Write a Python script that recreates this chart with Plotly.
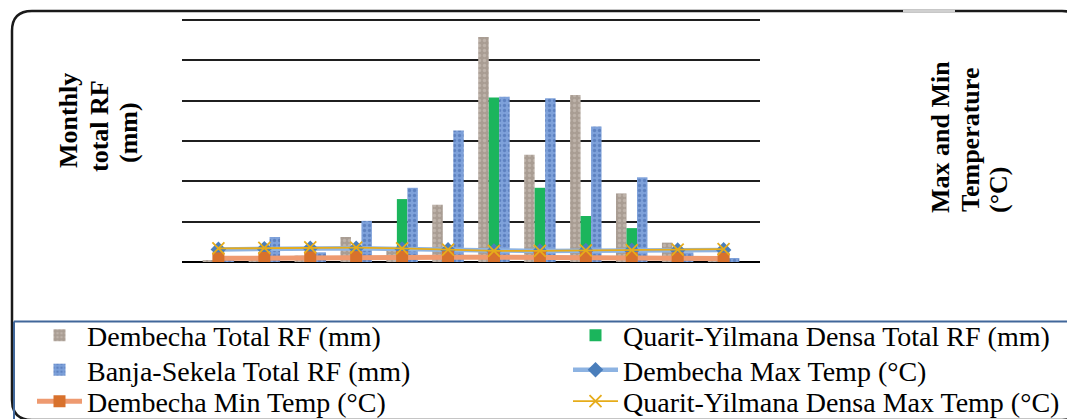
import plotly.graph_objects as go

# ---------------- data ----------------
months = ["Jan", "Feb", "Mar", "Apr", "May", "Jun", "Jul", "Aug", "Sep", "Oct", "Nov", "Dec"]
dembecha_rf = [2, 5, 8, 31, 15, 71, 279, 133, 207, 85, 24, 3]
quarit_rf = [1, 2, 4, 10, 78, 8, 204, 92, 57, 42, 6, 2]
banja_rf = [3, 31, 12, 51, 92, 163, 205, 203, 168, 105, 12, 5]
dembecha_max = [26, 27.5, 28.5, 28.5, 27, 25, 22.5, 22.5, 23.5, 24, 24.5, 25]
dembecha_min = [7.5, 8.5, 9.5, 10, 10.5, 10, 10, 10, 9.5, 8.5, 7.5, 7]
quarit_max = [28, 29, 30, 29.5, 28, 25.5, 23, 23, 24, 24.5, 25.5, 26.5]

# ---------------- geometry ----------------
W, H = 1067, 419
L, R, T, B = 182, 307, 18, 157
PW, PH = W - L - R, H - T - B
RF_TOP = 300 * PH / 242.0      # 300 mm sits at the top gridline
TEMP_TOP = 500 * PH / 242.0


def px(x):
    return (x - L) / PW


def py(y):
    return (H - B - y) / PH


SERIF = "Times New Roman, Liberation Serif, serif"

fig = go.Figure()

fig.add_trace(go.Bar(
    x=months, y=dembecha_rf, name="Dembecha Total RF (mm)", legend="legend",
    marker=dict(color="#A99D93", line=dict(width=0),
                pattern=dict(shape=".", fgcolor="#D3CAC2", size=5, solidity=0.35)),
))
fig.add_trace(go.Bar(
    x=months, y=quarit_rf, name="Quarit-Yilmana Densa Total RF (mm)", legend="legend2",
    marker=dict(color="#1BB55C", line=dict(width=0)),
))
fig.add_trace(go.Bar(
    x=months, y=banja_rf, name="Banja-Sekela Total RF (mm)", legend="legend3",
    marker=dict(color="#7EA1DA", line=dict(width=0),
                pattern=dict(shape=".", fgcolor="#3E63A8", size=5, solidity=0.35)),
))
fig.add_trace(go.Scatter(
    x=months, y=dembecha_max, name="Dembecha Max Temp (°C)", yaxis="y2", legend="legend4",
    mode="lines+markers",
    line=dict(color="#8DB3E2", width=4.5),
    marker=dict(symbol="diamond", size=12, color="#4A7EBB"),
))
fig.add_trace(go.Scatter(
    x=months, y=dembecha_min, name="Dembecha Min Temp (°C)", yaxis="y2", legend="legend5",
    mode="lines+markers",
    line=dict(color="#EE9A70", width=5),
    marker=dict(symbol="square", size=12, color="#D8712C"),
))
fig.add_trace(go.Scatter(
    x=months, y=quarit_max, name="Quarit-Yilmana Densa Max Temp (°C)", yaxis="y2", legend="legend6",
    mode="lines+markers",
    line=dict(color="#E6AC1A", width=1.8),
    marker=dict(symbol="x-thin", size=12, color="#E6AC1A",
                line=dict(width=1.8, color="#E6AC1A")),
))

# ---------------- titles ----------------
annotations = []
for text, x, y in [("Monthly", 69, 121), ("total RF", 99, 126), ("(mm)", 128, 133),
                   ("Max and Min", 940, 137), ("Temperature", 970, 140), ("(°C)", 998, 190)]:
    annotations.append(dict(
        text="<b>" + text + "</b>", x=px(x), y=py(y), xref="paper", yref="paper",
        textangle=-90, showarrow=False, xanchor="center", yanchor="middle",
        font=dict(family=SERIF, size=26, color="#000000"),
    ))

# ---------------- frame shapes ----------------
x0, y0, x1, y1, rr = 12, 11, 1082, 420, 20
frame = (f"M {px(x0 + rr)},{py(y0)} L {px(x1 - rr)},{py(y0)} "
         f"Q {px(x1)},{py(y0)} {px(x1)},{py(y0 + rr)} "
         f"L {px(x1)},{py(y1 - rr)} Q {px(x1)},{py(y1)} {px(x1 - rr)},{py(y1)} "
         f"L {px(x0 + rr)},{py(y1)} Q {px(x0)},{py(y1)} {px(x0)},{py(y1 - rr)} "
         f"L {px(x0)},{py(y0 + rr)} Q {px(x0)},{py(y0)} {px(x0 + rr)},{py(y0)} Z")

shapes = [
    dict(type="path", path=frame, xref="paper", yref="paper",
         line=dict(color="#1a1a1a", width=2.5), fillcolor="rgba(0,0,0,0)", layer="above"),
    dict(type="line", x0=px(903), x1=px(955), y0=py(11), y1=py(11), xref="paper", yref="paper",
         line=dict(color="#D0D0D0", width=2.5), layer="above"),
    dict(type="line", x0=px(14), x1=px(1067), y0=py(321.5), y1=py(321.5), xref="paper", yref="paper",
         line=dict(color="#41679A", width=2), layer="above"),
    dict(type="line", x0=px(14), x1=px(14), y0=py(321.5), y1=py(419), xref="paper", yref="paper",
         line=dict(color="#41679A", width=2), layer="above"),
]

LEG_FONT = 28
leg_common = dict(orientation="v", xref="container", yref="container",
                  xanchor="left", yanchor="top", itemwidth=45, maxheight=400,
                  font=dict(family=SERIF, size=LEG_FONT, color="#000000"),
                  bgcolor="rgba(0,0,0,0)", borderwidth=0, tracegroupgap=0,
                  traceorder="normal")
COL_X = [32, 568]
ROW_TOP = [310.5, 345, 376.5]


def leg(col, row):
    return dict(leg_common, x=COL_X[col] / W, y=1 - ROW_TOP[row] / H)


fig.update_layout(
    width=W, height=H,
    margin=dict(l=L, r=R, t=T, b=B, pad=0, autoexpand=False),
    paper_bgcolor="white", plot_bgcolor="white",
    barmode="group", bargap=0.315, bargroupgap=0,
    font=dict(family=SERIF, color="#000000"),
    xaxis=dict(showticklabels=False, ticks="", showgrid=False, showline=False, zeroline=False),
    yaxis=dict(range=[0, RF_TOP], tickvals=[0, 50, 100, 150, 200, 250, 300],
               showticklabels=False, ticks="",
               showgrid=True, gridcolor="#1f1f1f", gridwidth=1.5,
               zeroline=True, zerolinecolor="#000000", zerolinewidth=1.5, showline=False),
    yaxis2=dict(range=[0, TEMP_TOP], overlaying="y", side="right", showticklabels=False,
                ticks="", showgrid=False, zeroline=False, showline=False),
    showlegend=True,
    legend=leg(0, 0),
    legend2=leg(1, 0),
    legend3=leg(0, 1),
    legend4=leg(1, 1),
    legend5=leg(0, 2),
    legend6=leg(1, 2),
    annotations=annotations,
    shapes=shapes,
)

fig.write_html("out.html")
